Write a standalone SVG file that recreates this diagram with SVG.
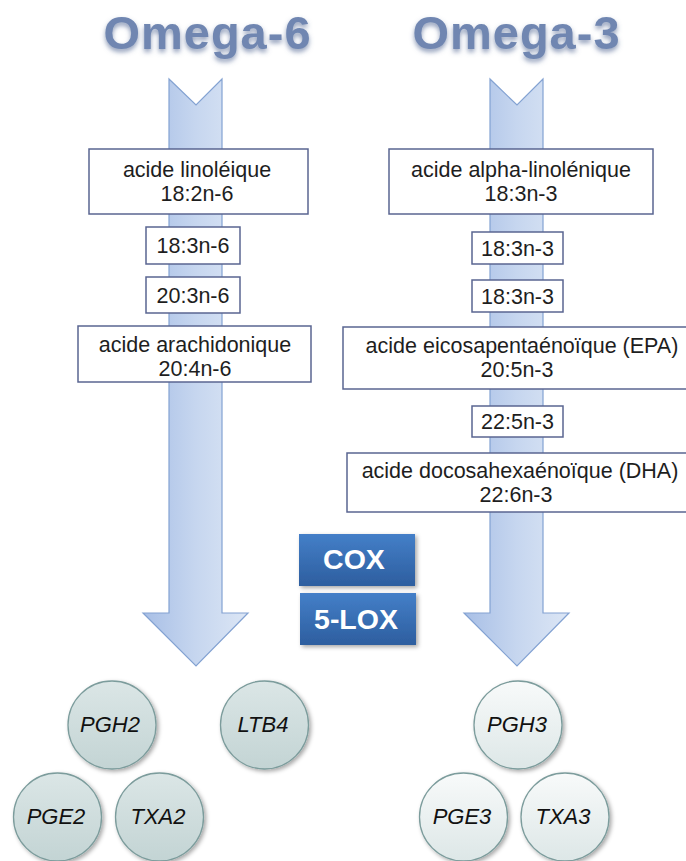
<svg xmlns="http://www.w3.org/2000/svg" width="686" height="861" viewBox="0 0 686 861">
<defs>
<linearGradient id="arrowGrad" x1="0" y1="0" x2="1" y2="0">
<stop offset="0" stop-color="#a8bfe6"/>
<stop offset="0.5" stop-color="#c6d6ef"/>
<stop offset="1" stop-color="#dce6f5"/>
</linearGradient>
<linearGradient id="btnGrad" x1="0" y1="0" x2="0" y2="1">
<stop offset="0" stop-color="#447fc8"/>
<stop offset="1" stop-color="#2d5e9f"/>
</linearGradient>
<linearGradient id="circDark" x1="0" y1="0" x2="0" y2="1">
<stop offset="0" stop-color="#dbe6e6"/>
<stop offset="1" stop-color="#c3d4d4"/>
</linearGradient>
<linearGradient id="circLight" x1="0" y1="0" x2="0" y2="1">
<stop offset="0" stop-color="#f8fafa"/>
<stop offset="1" stop-color="#dde7e7"/>
</linearGradient>
<filter id="titleShadow" x="-10%" y="-30%" width="120%" height="170%">
<feGaussianBlur in="SourceAlpha" stdDeviation="2.5" result="b"/>
<feOffset in="b" dx="0" dy="3" result="o"/>
<feFlood flood-color="#5b6f99" flood-opacity="0.7"/>
<feComposite in2="o" operator="in" result="s"/>
<feMerge><feMergeNode in="s"/><feMergeNode in="SourceGraphic"/></feMerge>
</filter>
<filter id="shadow" x="-20%" y="-20%" width="150%" height="150%">
<feDropShadow dx="2" dy="2" stdDeviation="2" flood-color="#000" flood-opacity="0.35"/>
</filter>
</defs>
<style>
.title{font-family:"Liberation Sans",Arial,sans-serif;font-weight:bold;font-size:47px;fill:#6f86b1;letter-spacing:1px;text-anchor:middle}
.arrow{fill:url(#arrowGrad);stroke:#83a2d2;stroke-width:1.2}
.box{fill:#fff;stroke:#5a6591;stroke-width:1.5}
.lbl{font-family:"Liberation Sans",Arial,sans-serif;font-size:21.5px;fill:#1e1e1e;text-anchor:middle}
.btn{fill:url(#btnGrad);filter:url(#shadow)}
.btxt{font-family:"Liberation Sans",Arial,sans-serif;font-weight:bold;font-size:28.5px;fill:#fff;text-anchor:middle}
.cd{fill:url(#circDark);stroke:#7c9c9c;stroke-width:1.3;filter:url(#shadow)}
.cl{fill:url(#circLight);stroke:#7c9c9c;stroke-width:1.3;filter:url(#shadow)}
.ctxt{font-family:"Liberation Sans",Arial,sans-serif;font-style:italic;font-size:22px;fill:#111;text-anchor:middle}
</style>
<rect width="686" height="861" fill="#fff"/>
<g id="titles">
<text class="title" x="207.5" y="49" filter="url(#titleShadow)">Omega-6</text>
<text class="title" x="516.5" y="49" filter="url(#titleShadow)">Omega-3</text>
</g>
<g id="connectors">
<polygon class="arrow" points="169,79 196,105 222,79 222,613 248,613 196,666 143,613 169,613"/>
<polygon class="arrow" points="490,79 517,105 543,79 543,613 569,613 517,666 464,613 490,613"/>
</g>
<g id="n6-linoleique">
<rect class="box" x="89" y="149" width="219" height="65"/>
<text class="lbl" x="197" y="177">acide linoléique</text>
<text class="lbl" x="197" y="201">18:2n-6</text>
</g>
<g id="n6-18-3">
<rect class="box" x="146" y="227" width="94" height="37"/>
<text class="lbl" x="193" y="253">18:3n-6</text>
</g>
<g id="n6-20-3">
<rect class="box" x="146" y="277" width="94" height="36"/>
<text class="lbl" x="193" y="303">20:3n-6</text>
</g>
<g id="n6-arachidonique">
<rect class="box" x="78" y="326" width="233" height="56"/>
<text class="lbl" x="195" y="352">acide arachidonique</text>
<text class="lbl" x="195" y="376">20:4n-6</text>
</g>
<g id="n3-alpha">
<rect class="box" x="389" y="149" width="264" height="65"/>
<text class="lbl" x="521" y="177">acide alpha-linolénique</text>
<text class="lbl" x="521" y="201">18:3n-3</text>
</g>
<g id="n3-18-3a">
<rect class="box" x="472" y="232" width="91" height="32"/>
<text class="lbl" x="517.5" y="256">18:3n-3</text>
</g>
<g id="n3-18-3b">
<rect class="box" x="472" y="280" width="91" height="32"/>
<text class="lbl" x="517.5" y="304">18:3n-3</text>
</g>
<g id="n3-epa">
<rect class="box" x="343" y="327" width="350" height="62"/>
<text class="lbl" x="522" y="353">acide eicosapentaénoïque (EPA)</text>
<text class="lbl" x="517" y="377">20:5n-3</text>
</g>
<g id="n3-22-5">
<rect class="box" x="472" y="406" width="91" height="31"/>
<text class="lbl" x="517.5" y="429">22:5n-3</text>
</g>
<g id="n3-dha">
<rect class="box" x="347" y="453" width="346" height="59"/>
<text class="lbl" x="520" y="478">acide docosahexaénoïque (DHA)</text>
<text class="lbl" x="516" y="502">22:6n-3</text>
</g>
<g id="cox">
<rect class="btn" x="299" y="534" width="116" height="52"/>
<text class="btxt" x="354" y="569">COX</text>
</g>
<g id="lox">
<rect class="btn" x="300" y="593" width="116" height="52"/>
<text class="btxt" x="356" y="629">5-LOX</text>
</g>
<g id="pgh2">
<circle class="cd" cx="112" cy="725" r="44"/>
<text class="ctxt" x="110" y="732">PGH2</text>
</g>
<g id="ltb4">
<circle class="cd" cx="264.5" cy="725" r="44"/>
<text class="ctxt" x="263" y="732">LTB4</text>
</g>
<g id="pge2">
<circle class="cd" cx="57.5" cy="817" r="44"/>
<text class="ctxt" x="56" y="824">PGE2</text>
</g>
<g id="txa2">
<circle class="cd" cx="159.5" cy="817" r="44"/>
<text class="ctxt" x="158" y="824">TXA2</text>
</g>
<g id="pgh3">
<circle class="cl" cx="518" cy="725" r="44"/>
<text class="ctxt" x="517" y="732">PGH3</text>
</g>
<g id="pge3">
<circle class="cl" cx="463.5" cy="817" r="44"/>
<text class="ctxt" x="462" y="824">PGE3</text>
</g>
<g id="txa3">
<circle class="cl" cx="565" cy="817" r="44"/>
<text class="ctxt" x="563" y="824">TXA3</text>
</g>
</svg>
